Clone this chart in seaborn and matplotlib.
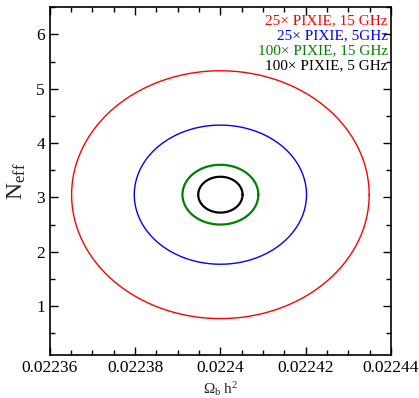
import numpy as np
import pandas as pd
import matplotlib
matplotlib.use("Agg")
import matplotlib.pyplot as plt
from matplotlib.ticker import MultipleLocator
import seaborn as sns

# Forecast 1-sigma contours in the (Omega_b h^2, N_eff) plane
labels = ["25\u00d7 PIXIE, 15 GHz", "25\u00d7 PIXIE, 5GHz",
          "100\u00d7 PIXIE, 15 GHz", "100\u00d7 PIXIE, 5 GHz"]
colors = ["#ff0000", "#0000ff", "#008000", "#000000"]
center_obh2 = [0.02240, 0.02240, 0.02240, 0.02240]
center_neff = [3.05, 3.05, 3.05, 3.05]
sigma_obh2 = [0.0000349, 0.0000202, 0.0000089, 0.0000052]
sigma_neff = [2.28, 1.28, 0.55, 0.33]
widths = [1.0, 1.0, 1.6, 1.6]

sns.set_theme(style="ticks")
plt.rcParams["font.family"] = ["Liberation Serif", "DejaVu Serif"]
plt.rcParams["mathtext.fontset"] = "custom"
plt.rcParams["mathtext.rm"] = "Liberation Serif"
plt.rcParams["mathtext.it"] = "Liberation Serif:italic"

fig = plt.figure(figsize=(4.19, 3.98), dpi=100)
ax = fig.add_axes([0.119, 0.108, 0.814, 0.874])

t = np.linspace(0, 2 * np.pi, 400)
for lab, c, x0, y0, sx, sy, lw in zip(labels, colors, center_obh2, center_neff,
                                      sigma_obh2, sigma_neff, widths):
    df = pd.DataFrame({"x": x0 + sx * np.cos(t), "y": y0 + sy * np.sin(t)})
    sns.lineplot(data=df, x="x", y="y", sort=False, estimator=None,
                 color=c, linewidth=lw, ax=ax)

ax.set_xlim(0.02236, 0.02244)
ax.set_ylim(0.1, 6.5)
ax.xaxis.set_major_locator(MultipleLocator(0.00002))
ax.xaxis.set_minor_locator(MultipleLocator(0.000005))
ax.yaxis.set_major_locator(MultipleLocator(1))
ax.yaxis.set_minor_locator(MultipleLocator(0.5))
ax.set_xticks([0.02236, 0.02238, 0.0224, 0.02242, 0.02244])
ax.set_xticklabels(["0.02236", "0.02238", "0.0224", "0.02242", "0.02244"])
ax.tick_params(which="both", direction="in", top=True, right=True,
               colors="black", labelsize=12.5, width=1.0)
ax.tick_params(which="major", length=6)
ax.tick_params(which="minor", length=3.5)
for sp in ax.spines.values():
    sp.set_linewidth(1.2)
    sp.set_color("black")

ax.set_xlabel(r"$\Omega_{\rm b}$ h$^2$", fontsize=11, labelpad=3)
ax.set_ylabel(r"N$_{\rm eff}$", fontsize=17, labelpad=6)

ys = [0.960, 0.918, 0.876, 0.833]
for lab, c, yy in zip(labels, colors, ys):
    ax.text(0.99, yy, lab, color=c, fontsize=11, ha="right", va="center",
            transform=ax.transAxes)

fig.savefig("out.png", dpi=100)
